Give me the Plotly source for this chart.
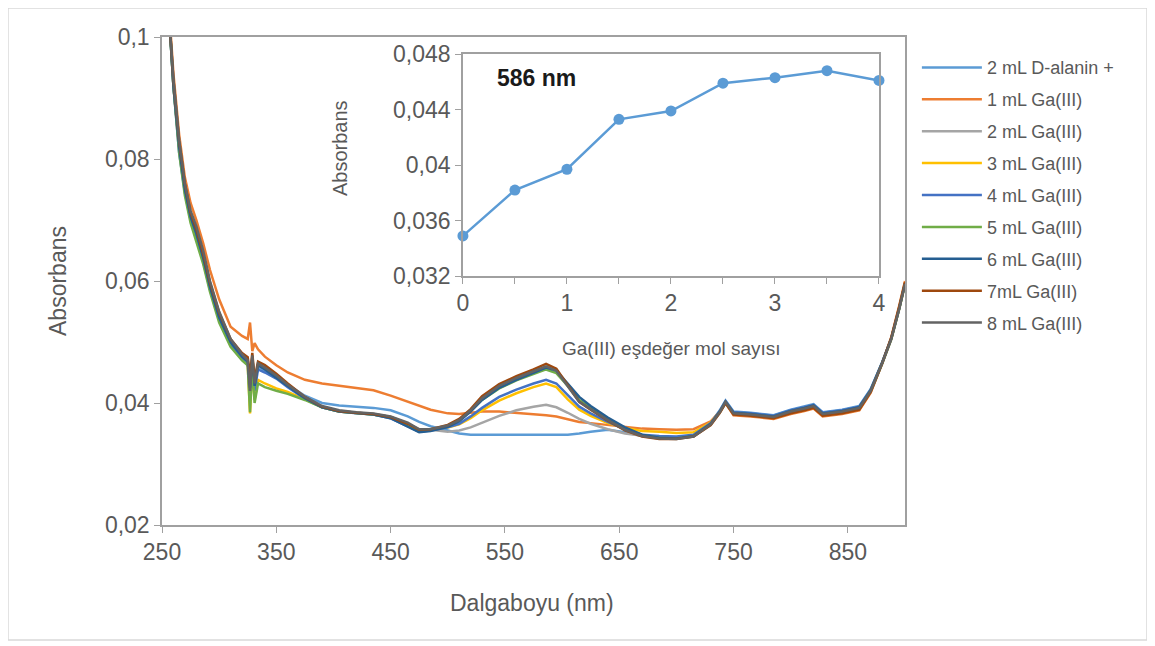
import plotly.graph_objects as go

# ---------------- data ----------------
wavelength = [256, 260, 265, 270, 275, 280, 286, 292, 300, 310,
              320, 325, 327, 329, 331, 334, 340, 350, 360, 375,
              390, 405, 420, 435, 450, 465, 475, 485, 500, 510,
              520, 530, 545, 560, 575, 586, 595, 605, 615, 625,
              640, 655, 670, 685, 700, 715, 730, 738, 743, 750,
              765, 785, 800, 812, 820, 828, 845, 860, 870, 880,
              888, 895, 900]

s_dalanin = [0.104, 0.092, 0.082, 0.075, 0.0705, 0.0677, 0.0638, 0.0590, 0.0540, 0.0500,
             0.0476, 0.0467, 0.0428, 0.0472, 0.0430, 0.0460, 0.0452, 0.0442, 0.0430, 0.0412,
             0.0400, 0.0396, 0.0394, 0.0392, 0.0388, 0.0378, 0.0369, 0.0362, 0.0355, 0.0350,
             0.0348, 0.0348, 0.0348, 0.0347, 0.0347, 0.0347, 0.0347, 0.0348, 0.0350, 0.0353,
             0.0356, 0.0352, 0.0346, 0.0343, 0.0342, 0.0346, 0.0367, 0.0388, 0.0404, 0.0386,
             0.0384, 0.0380, 0.0389, 0.0394, 0.0398, 0.0385, 0.0389, 0.0395, 0.0423, 0.0467,
             0.0506, 0.0556, 0.0596]

s_1ml = [0.105, 0.094, 0.084, 0.077, 0.0728, 0.0700, 0.0662, 0.0618, 0.0570, 0.0525,
         0.0510, 0.0505, 0.0532, 0.0485, 0.0498, 0.0488, 0.0476, 0.0462, 0.0450, 0.0438,
         0.0432, 0.0428, 0.0425, 0.0421, 0.0412, 0.0402, 0.0395, 0.0389, 0.0383, 0.0382,
         0.0384, 0.0386, 0.0386, 0.0384, 0.0382, 0.0380, 0.0378, 0.0373, 0.0369, 0.0367,
         0.0364, 0.0361, 0.0358, 0.0357, 0.0356, 0.0357, 0.0370, 0.0386, 0.0400, 0.0380,
         0.0378, 0.0374, 0.0382, 0.0387, 0.0391, 0.0378, 0.0382, 0.0388, 0.0417, 0.0465,
         0.0508, 0.0560, 0.0600]

s_2ml = [0.104, 0.093, 0.083, 0.0755, 0.0710, 0.0685, 0.0645, 0.0596, 0.0546, 0.0503,
         0.0478, 0.0470, 0.0430, 0.0475, 0.0432, 0.0462, 0.0455, 0.0443, 0.0429, 0.0409,
         0.0394, 0.0387, 0.0384, 0.0382, 0.0377, 0.0366, 0.0357, 0.0356, 0.0353, 0.0355,
         0.0360, 0.0368, 0.0379, 0.0388, 0.0394, 0.0397, 0.0393, 0.0384, 0.0374, 0.0366,
         0.0357, 0.0350, 0.0346, 0.0343, 0.0342, 0.0345, 0.0364, 0.0384, 0.0400, 0.0382,
         0.0380, 0.0376, 0.0385, 0.0390, 0.0394, 0.0381, 0.0385, 0.0391, 0.0419, 0.0464,
         0.0504, 0.0554, 0.0594]

s_3ml = [0.104, 0.092, 0.082, 0.075, 0.0705, 0.0675, 0.0635, 0.0588, 0.0538, 0.0496,
         0.0472, 0.0463, 0.0383, 0.0465, 0.0405, 0.0438, 0.0432, 0.0424, 0.0418, 0.0406,
         0.0393, 0.0386, 0.0383, 0.0381, 0.0376, 0.0364, 0.0356, 0.0357, 0.0360, 0.0365,
         0.0375, 0.0388, 0.0404, 0.0416, 0.0426, 0.0432, 0.0426, 0.0406, 0.0389, 0.0379,
         0.0367, 0.0359, 0.0354, 0.0353, 0.0351, 0.0352, 0.0368, 0.0386, 0.0401, 0.0383,
         0.0381, 0.0377, 0.0386, 0.0391, 0.0395, 0.0382, 0.0386, 0.0392, 0.0420, 0.0465,
         0.0505, 0.0555, 0.0595]

s_4ml = [0.104, 0.092, 0.081, 0.0745, 0.0700, 0.0672, 0.0632, 0.0586, 0.0537, 0.0497,
         0.0474, 0.0465, 0.0410, 0.0470, 0.0420, 0.0455, 0.0450, 0.0440, 0.0426, 0.0407,
         0.0393, 0.0386, 0.0383, 0.0381, 0.0375, 0.0362, 0.0353, 0.0355, 0.0360, 0.0366,
         0.0378, 0.0392, 0.0410, 0.0422, 0.0432, 0.0438, 0.0432, 0.0413, 0.0394, 0.0383,
         0.0369, 0.0357, 0.0348, 0.0346, 0.0345, 0.0348, 0.0367, 0.0387, 0.0403, 0.0385,
         0.0383, 0.0379, 0.0388, 0.0393, 0.0397, 0.0384, 0.0388, 0.0394, 0.0422, 0.0466,
         0.0506, 0.0556, 0.0596]

s_5ml = [0.104, 0.092, 0.081, 0.074, 0.0695, 0.0665, 0.0628, 0.0582, 0.0532, 0.0492,
         0.0470, 0.0462, 0.0385, 0.0462, 0.0400, 0.0432, 0.0426, 0.0420, 0.0415, 0.0405,
         0.0393, 0.0386, 0.0383, 0.0381, 0.0376, 0.0364, 0.0355, 0.0356, 0.0362, 0.0371,
         0.0387, 0.0405, 0.0424, 0.0437, 0.0448, 0.0455, 0.0449, 0.0428, 0.0405, 0.0392,
         0.0373, 0.0357, 0.0347, 0.0343, 0.0342, 0.0346, 0.0365, 0.0385, 0.0401, 0.0383,
         0.0381, 0.0377, 0.0386, 0.0391, 0.0395, 0.0382, 0.0386, 0.0392, 0.0420, 0.0465,
         0.0505, 0.0555, 0.0595]

s_6ml = [0.104, 0.092, 0.082, 0.075, 0.0705, 0.0678, 0.0638, 0.0590, 0.0540, 0.0500,
         0.0476, 0.0468, 0.0425, 0.0476, 0.0428, 0.0462, 0.0455, 0.0442, 0.0428, 0.0408,
         0.0393, 0.0386, 0.0383, 0.0381, 0.0375, 0.0362, 0.0352, 0.0354, 0.0361, 0.0370,
         0.0386, 0.0405, 0.0425, 0.0438, 0.0450, 0.0458, 0.0453, 0.0432, 0.0410, 0.0395,
         0.0376, 0.0360, 0.0348, 0.0343, 0.0342, 0.0346, 0.0366, 0.0386, 0.0402, 0.0384,
         0.0382, 0.0378, 0.0387, 0.0392, 0.0396, 0.0383, 0.0387, 0.0393, 0.0421, 0.0466,
         0.0506, 0.0556, 0.0596]

s_7ml = [0.104, 0.093, 0.083, 0.076, 0.0712, 0.0685, 0.0645, 0.0597, 0.0548, 0.0505,
         0.0482, 0.0475, 0.0445, 0.0482, 0.0440, 0.0468, 0.0462, 0.0448, 0.0432, 0.0410,
         0.0394, 0.0387, 0.0384, 0.0382, 0.0377, 0.0366, 0.0356, 0.0357, 0.0364, 0.0374,
         0.0390, 0.0411, 0.0431, 0.0444, 0.0455, 0.0464, 0.0456, 0.0428, 0.0402, 0.0389,
         0.0371, 0.0355, 0.0345, 0.0341, 0.0341, 0.0345, 0.0364, 0.0384, 0.0400, 0.0381,
         0.0379, 0.0375, 0.0383, 0.0388, 0.0392, 0.0379, 0.0383, 0.0389, 0.0418, 0.0465,
         0.0507, 0.0558, 0.0598]

s_8ml = [0.104, 0.093, 0.083, 0.076, 0.0715, 0.0690, 0.0650, 0.0600, 0.0550, 0.0505,
         0.0480, 0.0470, 0.0420, 0.0478, 0.0432, 0.0465, 0.0458, 0.0445, 0.0430, 0.0410,
         0.0395, 0.0388, 0.0385, 0.0383, 0.0378, 0.0368, 0.0357, 0.0357, 0.0363, 0.0372,
         0.0388, 0.0408, 0.0428, 0.0441, 0.0452, 0.0460, 0.0453, 0.0427, 0.0402, 0.0390,
         0.0372, 0.0356, 0.0346, 0.0342, 0.0341, 0.0345, 0.0365, 0.0385, 0.0402, 0.0383,
         0.0381, 0.0377, 0.0386, 0.0391, 0.0395, 0.0382, 0.0386, 0.0392, 0.0420, 0.0465,
         0.0505, 0.0555, 0.0595]

series_names = ["2 mL D-alanin +", "1 mL Ga(III)", "2 mL Ga(III)", "3 mL Ga(III)",
                "4 mL Ga(III)", "5 mL Ga(III)", "6 mL Ga(III)", "7mL Ga(III)", "8 mL Ga(III)"]
series_values = [s_dalanin, s_1ml, s_2ml, s_3ml, s_4ml, s_5ml, s_6ml, s_7ml, s_8ml]
series_colors = ["#5B9BD5", "#ED7D31", "#A5A5A5", "#FFC000", "#4472C4",
                 "#70AD47", "#255E91", "#9E480E", "#636363"]

# inset: absorbance at 586 nm vs Ga(III) equivalents
inset_eq = [0, 0.5, 1, 1.5, 2, 2.5, 3, 3.5, 4]
inset_abs = [0.0349, 0.0382, 0.0397, 0.0433, 0.0439, 0.0459, 0.0463, 0.0468, 0.0461]

x_ticks = [250, 350, 450, 550, 650, 750, 850]
inset_xticks = [0, 0.5, 1, 1.5, 2, 2.5, 3, 3.5, 4]
inset_xtext = ["0", "", "1", "", "2", "", "3", "", "4"]

# ---------------- figure ----------------
FONT = "Liberation Sans, Arial, sans-serif"
TXT = "#595959"
AX = "#A0A0A0"

fig = go.Figure()

for i, (name, vals, col) in enumerate(zip(series_names, series_values, series_colors)):
    fig.add_trace(go.Scatter(
        x=wavelength, y=vals, mode="lines", name=name,
        line=dict(color=col, width=2.5),
        legendgroup=f"g{i}", xaxis="x", yaxis="y"))

fig.add_trace(go.Scatter(
    x=inset_eq, y=inset_abs, mode="lines+markers", showlegend=False,
    line=dict(color="#5B9BD5", width=2.5),
    marker=dict(color="#5B9BD5", size=11),
    cliponaxis=False, xaxis="x2", yaxis="y2"))

fig.update_layout(
    width=1147, height=638,
    margin=dict(l=154, r=250, t=29, b=121),
    paper_bgcolor="white", plot_bgcolor="white",
    separators=",.",
    font=dict(family=FONT, color=TXT, size=23),
    showlegend=True,
    legend=dict(x=1.016, y=0.975, xanchor="left", yanchor="top",
                font=dict(size=18, color=TXT), traceorder="grouped",
                tracegroupgap=5.5, itemwidth=60, bgcolor="rgba(0,0,0,0)"),
    xaxis=dict(range=[250, 900], tickvals=x_ticks, showgrid=False, zeroline=False,
               showline=True, linecolor=AX, linewidth=1.5, mirror=True,
               ticks="outside", ticklen=6, tickcolor=AX,
               tickfont=dict(size=23, color=TXT)),
    yaxis=dict(range=[0.02, 0.1], dtick=0.02, tick0=0.02, showgrid=False, zeroline=False,
               showline=True, linecolor=AX, linewidth=1.5, mirror=True,
               ticks="outside", ticklen=6, tickcolor=AX,
               tickfont=dict(size=23, color=TXT)),
    xaxis2=dict(domain=[0.405, 0.965], anchor="y2", range=[0, 4],
                tickvals=inset_xticks, ticktext=inset_xtext,
                showgrid=False, zeroline=False, showline=True, linecolor=AX,
                linewidth=1.5, mirror=True, ticks="outside", ticklen=6, tickcolor=AX,
                tickfont=dict(size=23, color=TXT)),
    yaxis2=dict(domain=[0.51, 0.965], anchor="x2", range=[0.032, 0.048],
                dtick=0.004, tick0=0.032, showgrid=False, zeroline=False,
                showline=True, linecolor=AX, linewidth=1.5, mirror=True,
                ticks="outside", ticklen=6, tickcolor=AX,
                tickfont=dict(size=23, color=TXT)),
)

annotations = [
    dict(text="Dalgaboyu (nm)", xref="paper", yref="paper", x=0.498, y=-0.16,
         showarrow=False, font=dict(size=23, color=TXT), xanchor="center", yanchor="middle"),
    dict(text="Absorbans", xref="paper", yref="paper", x=-0.14, y=0.5, textangle=-90,
         showarrow=False, font=dict(size=23, color=TXT), xanchor="center", yanchor="middle"),
    dict(text="Ga(III) eşdeğer mol sayısı", xref="paper", yref="paper", x=0.686, y=0.3627,
         showarrow=False, font=dict(size=19, color=TXT), xanchor="center", yanchor="middle"),
    dict(text="Absorbans", xref="paper", yref="paper", x=0.2396, y=0.7725, textangle=-90,
         showarrow=False, font=dict(size=20, color=TXT), xanchor="center", yanchor="middle"),
    dict(text="<b>586 nm</b>", xref="x2", yref="y2", x=0.71, y=0.04627,
         showarrow=False, font=dict(size=23, color="#1a1a1a"), xanchor="center", yanchor="middle"),
]
fig.update_layout(annotations=annotations)

fig.add_shape(type="rect", xref="paper", yref="paper",
              x0=-0.2073, x1=1.3257, y0=-0.2357, y1=1.0594,
              line=dict(color="#D9D9D9", width=1.5), fillcolor="rgba(0,0,0,0)", layer="below")

fig.write_html("out.html")
